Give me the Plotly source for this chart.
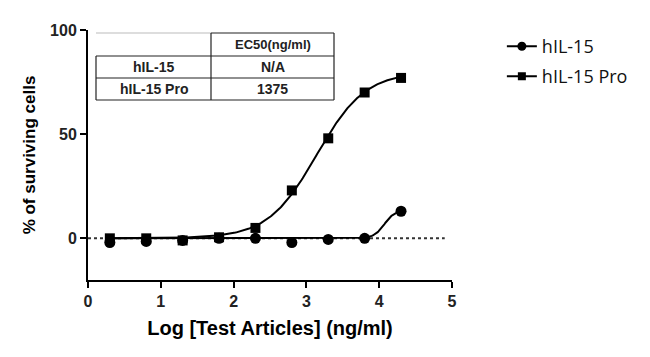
import numpy as np
import plotly.graph_objects as go

# ---- data ----
log_conc = [0.3, 0.8, 1.3, 1.8, 2.3, 2.8, 3.3, 3.8, 4.3]
hil15 = [-2, -1.5, -1, 0, 0, -2, -0.5, 0, 13]
hil15_pro = [0, 0, -1, 0.5, 5, 23, 48, 70, 77]

# fitted 4-parameter logistic curves (bottom, top, logEC50, hill) as drawn
fit_hil15 = dict(bottom=0.0, top=13.5, logec50=4.07, hill=6.0)
fit_pro = dict(bottom=0.0, top=80.0, logec50=3.14, hill=1.3)

series_names = ["hIL-15", "hIL-15 Pro"]
x_ticks = [0, 1, 2, 3, 4, 5]
y_ticks = [0, 50, 100]

table_header = ["", "EC50(ng/ml)"]
table_rows = [["hIL-15", "N/A"], ["hIL-15 Pro", "1375"]]

FONT = "Arial, Liberation Sans, sans-serif"
LEGFONT = "Open Sans, Arial, sans-serif"


def four_pl(x, p):
    x = np.asarray(x, dtype=float)
    return p["bottom"] + (p["top"] - p["bottom"]) / (1 + 10 ** ((p["logec50"] - x) * p["hill"]))


xs = np.linspace(min(log_conc), max(log_conc), 300)

fig = go.Figure()

# dotted zero line
fig.add_shape(type="line", xref="x", yref="y", x0=0, x1=4.9, y0=0, y1=0,
              line=dict(color="#333", width=2, dash="dot"), layer="below")

for p in (fit_hil15, fit_pro):
    fig.add_trace(go.Scatter(x=xs, y=four_pl(xs, p), mode="lines",
                             line=dict(color="black", width=2), showlegend=False,
                             hoverinfo="skip"))

fig.add_trace(go.Scatter(x=log_conc, y=hil15_pro, mode="markers", name=series_names[1],
                         marker=dict(symbol="square", size=10, color="black"), showlegend=False))
fig.add_trace(go.Scatter(x=log_conc, y=hil15, mode="markers", name=series_names[0],
                         marker=dict(symbol="circle", size=11, color="black"), showlegend=False))

# legend entries
fig.add_trace(go.Scatter(x=[None], y=[None], mode="lines+markers", name=series_names[0],
                         line=dict(color="black", width=2),
                         marker=dict(symbol="circle", size=9, color="black"), legend="legend"))
fig.add_trace(go.Scatter(x=[None], y=[None], mode="lines+markers", name=series_names[1],
                         line=dict(color="black", width=2),
                         marker=dict(symbol="square", size=8, color="black"), legend="legend2"))

# ---- inset table drawn as shapes + text ----
L, M, R = 96, 211, 334  # pixel x positions (page)
T, R1, R2, B = 33, 56, 78, 100
PX0, PW, PY0, PH = 88, 364, 30, 250


def px(xp):
    return (xp - PX0) / PW


def py(yp):
    return 1 - (yp - PY0) / PH


thin = dict(color="#222", width=1.2)
fig.add_shape(type="line", xref="paper", yref="paper", x0=px(L), x1=px(M), y0=py(T), y1=py(T),
              line=dict(color="#bbb", width=1))
fig.add_shape(type="line", xref="paper", yref="paper", x0=px(M), x1=px(R), y0=py(T), y1=py(T), line=thin)
fig.add_shape(type="line", xref="paper", yref="paper", x0=px(M), x1=px(M), y0=py(T), y1=py(B), line=thin)
fig.add_shape(type="line", xref="paper", yref="paper", x0=px(R), x1=px(R), y0=py(T), y1=py(B), line=thin)
fig.add_shape(type="line", xref="paper", yref="paper", x0=px(L), x1=px(L), y0=py(R1), y1=py(B), line=thin)
for yy in (R1, R2, B):
    fig.add_shape(type="line", xref="paper", yref="paper", x0=px(L), x1=px(R), y0=py(yy), y1=py(yy), line=thin)

fig.add_annotation(xref="paper", yref="paper", x=px((M + R) / 2), y=py((T + R1) / 2),
                   xanchor="center", yanchor="middle",
                   text="<b>%s</b>" % table_header[1], showarrow=False,
                   font=dict(family=FONT, size=13, color="#222"))
for i, (yt, yb) in enumerate([(R1, R2), (R2, B)]):
    for j, (xl, xr) in enumerate([(L, M), (M, R)]):
        fig.add_annotation(xref="paper", yref="paper", x=px((xl + xr) / 2), y=py((yt + yb) / 2),
                           xanchor="center", yanchor="middle",
                           text="<b>%s</b>" % table_rows[i][j], showarrow=False,
                           font=dict(family=FONT, size=14, color="#222"))

axis_common = dict(showline=True, linecolor="black", linewidth=2, ticks="outside", ticklen=6,
                   tickwidth=2, tickcolor="black", showgrid=False, zeroline=False, automargin=False,
                   tickfont=dict(family=FONT, size=16, color="#222"))

# page body has an 8px margin, so the figure is shrunk by 8px and margins offset
fig.update_layout(
    width=642, height=349,
    margin=dict(l=80, r=198, t=22, b=77, autoexpand=False),
    paper_bgcolor="white", plot_bgcolor="white",
    font=dict(family=FONT, color="black"),
    xaxis=dict(range=[0, 5], tickvals=x_ticks, ticktext=["<b>%d</b>" % v for v in x_ticks],
               title=dict(text="<b>Log [Test Articles] (ng/ml)</b>", font=dict(family=FONT, size=20),
                          standoff=12),
               **axis_common),
    yaxis=dict(range=[-20, 100], tickvals=y_ticks, ticktext=["<b>%d</b>" % v for v in y_ticks],
               title=dict(text="<b>% of surviving cells</b>", font=dict(family=FONT, size=17),
                          standoff=10),
               **axis_common),
    legend=dict(x=1.137, y=0.934, xanchor="left", yanchor="middle", bgcolor="rgba(0,0,0,0)",
                font=dict(family=LEGFONT, size=18, color="#111"), itemwidth=30),
    legend2=dict(x=1.137, y=0.814, xanchor="left", yanchor="middle", bgcolor="rgba(0,0,0,0)",
                 font=dict(family=LEGFONT, size=18, color="#111"), itemwidth=30),
)

fig.write_html("out.html")
